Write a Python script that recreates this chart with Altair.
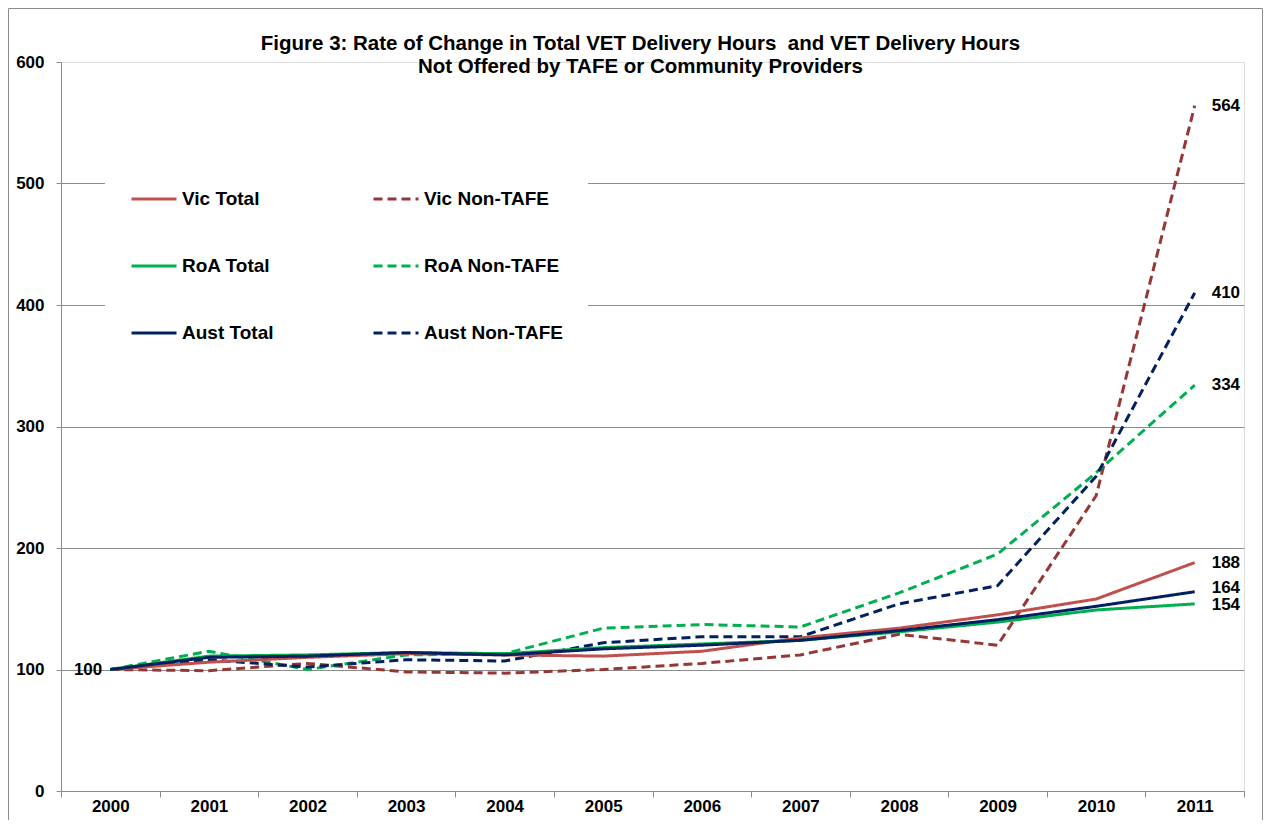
import altair as alt
import pandas as pd

years = [str(y) for y in range(2000, 2012)]

vic_total = [100, 106, 110, 113, 112, 111, 115, 126, 134, 145, 158, 188]
vic_non_tafe = [100, 99, 105, 98, 97, 100, 105, 112, 129, 120, 243, 564]
roa_total = [100, 111, 112, 114, 113, 118, 121, 124, 131, 139, 149, 154]
roa_non_tafe = [100, 115, 100, 112, 113, 134, 137, 135, 163, 195, 262, 334]
aust_total = [100, 110, 111, 114, 112, 117, 120, 124, 132, 141, 152, 164]
aust_non_tafe = [100, 108, 102, 108, 107, 122, 127, 127, 154, 169, 259, 410]

series_names = ["Vic Total", "Vic Non-TAFE", "RoA Total", "RoA Non-TAFE",
                "Aust Total", "Aust Non-TAFE"]
series_values = [vic_total, vic_non_tafe, roa_total, roa_non_tafe,
                 aust_total, aust_non_tafe]
series_kind = ["Total", "Non-TAFE", "Total", "Non-TAFE", "Total", "Non-TAFE"]
# legend is filled column by column: totals in the first column, non-TAFE in the second
legend_order = ["Vic Total", "RoA Total", "Aust Total",
                "Vic Non-TAFE", "RoA Non-TAFE", "Aust Non-TAFE"]
legend_colors = ["#C0504D", "#00B050", "#002060", "#953735", "#00B050", "#002060"]
legend_dashes = [[1, 0], [1, 0], [1, 0], [9, 5], [9, 5], [9, 5]]
y_ticks = [0, 100, 200, 300, 400, 500, 600]

title_lines = ["Figure 3: Rate of Change in Total VET Delivery Hours\u00a0 and VET Delivery Hours",
               "Not Offered by TAFE or Community Providers"]

rows = []
for name, vals, kind in zip(series_names, series_values, series_kind):
    for yr, v in zip(years, vals):
        rows.append({"series": name, "year": yr, "value": v, "kind": kind})
df = pd.DataFrame(rows)

FONT = "Liberation Sans"
W, H = 1183, 729
PAD_L, PAD_T, PAD_R, PAD_B = 53, 54, 19, 29

legend_props = dict(
    title=None, orient="none", legendX=44, legendY=88, columns=2, padding=25,
    fillColor="white", symbolType="stroke", symbolSize=2025, symbolStrokeWidth=3,
    labelFont=FONT, labelFontSize=19, labelFontWeight="bold", labelColor="black",
    labelOffset=4, columnPadding=93, rowPadding=33, labelLimit=300,
)

x_enc = alt.X("year:O", bandPosition=0.5,
              scale=alt.Scale(type="band", paddingInner=0, paddingOuter=0),
              axis=alt.Axis(title=None, labelAngle=0, tickBand="extent",
                            labelFont=FONT, labelFontSize=17, labelFontWeight="bold",
                            labelColor="black", labelPadding=1, tickSize=6,
                            tickColor="#8c8c8c", domainColor="#8c8c8c", grid=False))
y_enc = alt.Y("value:Q", scale=alt.Scale(domain=[0, 600], nice=False, zero=True),
              axis=alt.Axis(title=None, values=y_ticks, labelFont=FONT, labelFontSize=17,
                            labelFontWeight="bold", labelColor="black", labelPadding=12,
                            tickSize=5, tickColor="#8c8c8c", domainColor="#8c8c8c",
                            grid=True, gridColor="#8c8c8c", gridWidth=1,
                            gridOpacity={"condition": {"test": "datum.value === 600", "value": 0},
                                         "value": 1}))
color_enc = alt.Color("series:N", scale=alt.Scale(domain=legend_order, range=legend_colors),
                      legend=alt.Legend(**legend_props))
dash_enc = alt.StrokeDash("series:N", scale=alt.Scale(domain=legend_order, range=legend_dashes),
                          legend=alt.Legend(**legend_props))

base = alt.Chart(df)

dashed = base.transform_filter(alt.datum.kind == "Non-TAFE").mark_line(
    strokeWidth=3).encode(x=x_enc, y=y_enc, color=color_enc, strokeDash=dash_enc)
solid = base.transform_filter(alt.datum.kind == "Total").mark_line(
    strokeWidth=3).encode(x=x_enc, y=y_enc, color=color_enc, strokeDash=dash_enc)

label_props = dict(font=FONT, fontSize=17, fontWeight="bold", color="black",
                   align="left", baseline="middle", dx=17)
end_main = base.transform_filter(
    (alt.datum.year == "2011") & (alt.datum.series != "Aust Total") & (alt.datum.series != "RoA Total")
).mark_text(**label_props).encode(x=x_enc, y=y_enc, text=alt.Text("value:Q", format="d"))
end_aust = base.transform_filter(
    (alt.datum.year == "2011") & (alt.datum.series == "Aust Total")
).mark_text(**{**label_props, "dy": -4}).encode(x=x_enc, y=y_enc, text=alt.Text("value:Q", format="d"))
end_roa = base.transform_filter(
    (alt.datum.year == "2011") & (alt.datum.series == "RoA Total")
).mark_text(**{**label_props, "dy": 1}).encode(x=x_enc, y=y_enc, text=alt.Text("value:Q", format="d"))
start_label = base.transform_filter(
    (alt.datum.year == "2000") & (alt.datum.series == "Aust Total")
).mark_text(font=FONT, fontSize=17, fontWeight="bold", color="black",
            align="right", baseline="middle", dx=-8).encode(
    x=x_enc, y=y_enc, text=alt.Text("value:Q", format="d"))

frame = alt.Chart(pd.DataFrame({"a": [0]})).mark_rect(
    fill=None, stroke="#8c8c8c", strokeWidth=1, clip=False).encode(
    x=alt.value(-PAD_L + 0.5), y=alt.value(-PAD_T + 0.5),
    x2=alt.value(W + PAD_R - 0.5), y2=alt.value(H + PAD_B + 20))

# title offset is measured from the frame's top edge (part of the group bounds)
chart = alt.layer(dashed, solid, end_main, end_aust, end_roa, start_label, frame).properties(
    width=W, height=H,
    autosize=alt.AutoSizeParams(type="none"),
    padding={"left": PAD_L, "top": PAD_T, "right": PAD_R, "bottom": PAD_B},
    title=alt.TitleParams(title_lines, font=FONT, fontSize=20.5, fontWeight="bold",
                          color="black", anchor="middle", frame="group",
                          offset=-69, dx=-12, lineHeight=23),
).configure_view(stroke=None).configure(background="white")

chart.save("out.html", embed_options={"renderer": "svg", "actions": False})
